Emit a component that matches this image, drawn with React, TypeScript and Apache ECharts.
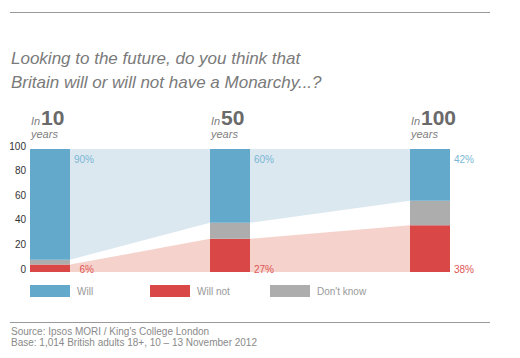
import React, { useEffect, useRef } from 'react';
import * as echarts from 'echarts';

// ---- data ----
const categories = ['10', '50', '100'];
const willValues = [90, 60, 42];
const willNotValues = [6, 27, 38];
const dontKnowValues = [4, 13, 20];
const seriesNames = ['Will', 'Will not', "Don't know"];
const yMin = 0;
const yMax = 100;
const yInterval = 20;

// ---- layout / style ----
const barCenters = [20, 200, 400]; // x positions in grid units (1 unit = 1px)
const BAR_W = 40;
const BLUE = '#62a9cb';
const RED = '#d94747';
const GRAY = '#adadad';
const BAND_BLUE = '#dce8f0';
const BAND_RED = '#f5d3cc';
const LABEL_BLUE = '#7ab7d4';
const LABEL_RED = '#e05555';
const FONT = '"Liberation Sans", Arial, sans-serif';

export default function App() {
  const ref = useRef<HTMLDivElement>(null);

  useEffect(() => {
    if (!ref.current) return;
    const chart = echarts.init(ref.current, undefined, { renderer: 'svg' });

    const barData = categories.map((_, i) => [
      barCenters[i],
      willNotValues[i],
      dontKnowValues[i],
      willValues[i],
    ]);
    const bandData = categories.slice(0, -1).map((_, i) => [
      barCenters[i],
      barCenters[i + 1],
      willNotValues[i] + dontKnowValues[i],
      willNotValues[i + 1] + dontKnowValues[i + 1],
      willNotValues[i],
      willNotValues[i + 1],
    ]);

    const option: any = {
      animation: false,
      backgroundColor: '#ffffff',
      title: {
        text: 'Looking to the future, do you think that\nBritain will or will not have a Monarchy...?',
        left: 11,
        top: 46,
        padding: 0,
        textStyle: {
          fontFamily: FONT,
          fontSize: 17,
          fontStyle: 'italic',
          fontWeight: 'normal',
          color: '#7a7a7a',
          lineHeight: 24,
        },
      },
      grid: { left: 30, right: 70, top: 149, bottom: 86 },
      xAxis: { type: 'value', min: 0, max: 420, show: false },
      yAxis: {
        type: 'value',
        min: yMin,
        max: yMax,
        interval: yInterval,
        axisLine: { show: false },
        axisTick: { show: false },
        splitLine: { show: false },
        axisLabel: {
          color: '#333333',
          fontSize: 10,
          fontFamily: FONT,
          margin: 4,
          verticalAlign: 'bottom',
          lineHeight: 6,
        },
      },
      legend: seriesNames.map((name, i) => ({
        data: [{ name, icon: 'rect' }],
        left: 30 + i * 120,
        top: 285,
        padding: 0,
        itemWidth: 40,
        itemHeight: 12,
        selectedMode: false,
        textStyle: {
          color: '#999999',
          fontSize: 10,
          fontFamily: FONT,
          padding: [0, 0, 0, 2],
        },
      })),
      graphic: [
        {
          type: 'line',
          shape: { x1: 10, y1: 12.5, x2: 490, y2: 12.5 },
          style: { stroke: '#9a9a9a', lineWidth: 1 },
        },
        {
          type: 'line',
          shape: { x1: 10, y1: 322.5, x2: 490, y2: 322.5 },
          style: { stroke: '#9a9a9a', lineWidth: 1 },
        },
        {
          type: 'text',
          left: 11,
          top: 326,
          style: {
            text: "Source: Ipsos MORI / King's College London",
            fill: '#8a8a8a',
            fontSize: 10,
            fontFamily: FONT,
          },
        },
        {
          type: 'text',
          left: 11,
          top: 337,
          style: {
            text: 'Base: 1,014 British adults 18+, 10 \u2013 13 November 2012',
            fill: '#8a8a8a',
            fontSize: 10,
            fontFamily: FONT,
          },
        },
      ],
      series: [
        {
          type: 'custom',
          name: 'bands',
          z: 1,
          silent: true,
          encode: { x: [0, 1], y: [2, 3] },
          data: bandData,
          renderItem: (params: any, api: any) => {
            const xa = api.value(0);
            const xb = api.value(1);
            const baseA = api.value(2);
            const baseB = api.value(3);
            const redA = api.value(4);
            const redB = api.value(5);
            const h = BAR_W / 2;
            const tA = api.coord([xa, yMax]);
            const tB = api.coord([xb, yMax]);
            const bA = api.coord([xa, baseA]);
            const bB = api.coord([xb, baseB]);
            const zA = api.coord([xa, 0]);
            const zB = api.coord([xb, 0]);
            const rA = api.coord([xa, redA]);
            const rB = api.coord([xb, redB]);
            return {
              type: 'group',
              children: [
                {
                  type: 'polygon',
                  shape: {
                    points: [
                      [tA[0] + h, tA[1]],
                      [tB[0] - h, tB[1]],
                      [bB[0] - h, bB[1]],
                      [bA[0] + h, bA[1]],
                    ],
                  },
                  style: { fill: BAND_BLUE },
                },
                {
                  type: 'polygon',
                  shape: {
                    points: [
                      [rA[0] + h, rA[1]],
                      [rB[0] - h, rB[1]],
                      [zB[0] - h, zB[1]],
                      [zA[0] + h, zA[1]],
                    ],
                  },
                  style: { fill: BAND_RED },
                },
              ],
            };
          },
        },
        {
          type: 'custom',
          name: 'bars',
          z: 2,
          silent: true,
          encode: { x: 0, y: 1 },
          data: barData,
          renderItem: (params: any, api: any) => {
            const i = params.dataIndex;
            const x = api.value(0);
            const wn = api.value(1);
            const dk = api.value(2);
            const w = api.value(3);
            const p0 = api.coord([x, 0]);
            const p1 = api.coord([x, wn]);
            const p2 = api.coord([x, wn + dk]);
            const p3 = api.coord([x, wn + dk + w]);
            const top = api.coord([x, yMax]);
            const left = p0[0] - BAR_W / 2;
            const right = left + BAR_W;
            return {
              type: 'group',
              children: [
                {
                  type: 'rect',
                  shape: { x: left, y: p1[1], width: BAR_W, height: p0[1] - p1[1] },
                  style: { fill: RED },
                },
                {
                  type: 'rect',
                  shape: { x: left, y: p2[1], width: BAR_W, height: p1[1] - p2[1] },
                  style: { fill: GRAY },
                },
                {
                  type: 'rect',
                  shape: { x: left, y: p3[1], width: BAR_W, height: p2[1] - p3[1] },
                  style: { fill: BLUE },
                },
                {
                  type: 'text',
                  style: {
                    text: w + '%',
                    x: right + 24,
                    y: p3[1] + 10,
                    align: 'right',
                    verticalAlign: 'middle',
                    fill: LABEL_BLUE,
                    fontSize: 10,
                    fontFamily: FONT,
                  },
                },
                {
                  type: 'text',
                  style: {
                    text: wn + '%',
                    x: right + 24,
                    y: p0[1] - 3,
                    align: 'right',
                    verticalAlign: 'middle',
                    fill: LABEL_RED,
                    fontSize: 10,
                    fontFamily: FONT,
                  },
                },
                {
                  type: 'text',
                  style: {
                    text: 'In',
                    x: left + 1,
                    y: top[1] - 28,
                    align: 'left',
                    verticalAlign: 'middle',
                    fill: '#808080',
                    fontSize: 11,
                    lineHeight: 9,
                    fontStyle: 'italic',
                    fontFamily: FONT,
                  },
                },
                {
                  type: 'text',
                  style: {
                    text: categories[i],
                    x: left + 11,
                    y: top[1] - 32,
                    align: 'left',
                    verticalAlign: 'middle',
                    fill: '#6a6a6a',
                    fontSize: 21,
                    lineHeight: 16,
                    fontWeight: 'bold',
                    fontFamily: FONT,
                  },
                },
                {
                  type: 'text',
                  style: {
                    text: 'years',
                    x: left + 1,
                    y: top[1] - 15,
                    align: 'left',
                    verticalAlign: 'middle',
                    fill: '#808080',
                    fontSize: 11,
                    lineHeight: 10,
                    fontStyle: 'italic',
                    fontFamily: FONT,
                  },
                },
              ],
            };
          },
        },
        { type: 'bar', name: seriesNames[0], data: [], itemStyle: { color: BLUE } },
        { type: 'bar', name: seriesNames[1], data: [], itemStyle: { color: RED } },
        { type: 'bar', name: seriesNames[2], data: [], itemStyle: { color: GRAY } },
      ],
    };

    chart.setOption(option);
    return () => chart.dispose();
  }, []);

  return (
    <div
      ref={ref}
      style={{ position: 'fixed', left: 0, top: 0, width: 520, height: 358, background: '#fff' }}
    />
  );
}
